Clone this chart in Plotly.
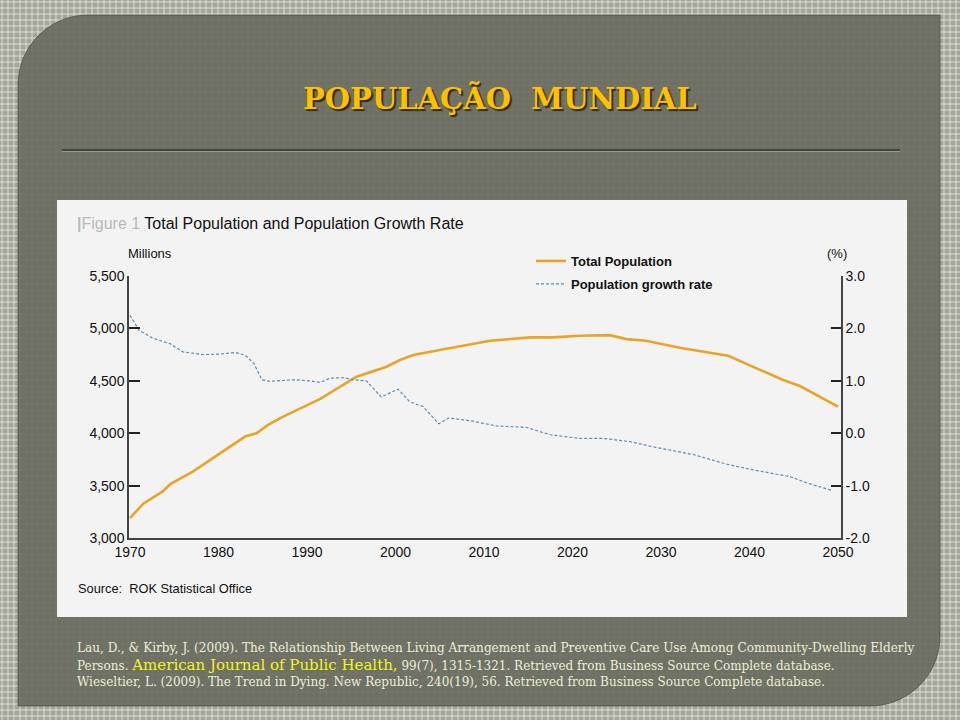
import plotly.graph_objects as go

# ---------------- data ----------------
pop_years = [1970.0, 1971.5, 1973.7, 1974.6, 1977.1, 1980.2, 1983.0, 1984.3, 1985.6,
             1987.3, 1990.0, 1991.5, 1995.6, 1997.5, 1999.0, 2000.5, 2002.0, 2005.0,
             2008.0, 2010.7, 2015.2, 2017.8, 2020.8, 2024.2, 2026.1, 2028.3, 2032.1,
             2034.7, 2037.6, 2040.8, 2043.8, 2045.7, 2047.9, 2050.0]
pop_values = [3190, 3327, 3444, 3517, 3634, 3810, 3968, 4000, 4079,
              4158, 4270, 4327, 4539, 4593, 4634, 4698, 4746, 4793,
              4841, 4882, 4914, 4914, 4930, 4936, 4898, 4882, 4815,
              4777, 4739, 4619, 4508, 4450, 4349, 4253]

rate_years = [1970.0, 1971.0, 1972.6, 1974.5, 1976.0, 1978.3, 1980.2, 1981.9, 1983.0,
              1984.0, 1984.9, 1985.8, 1988.5, 1990.3, 1991.5, 1992.6, 1994.1, 1995.2,
              1996.7, 1997.5, 1998.4, 1999.0, 2000.3, 2001.6, 2003.1, 2004.9, 2006.0,
              2008.4, 2011.4, 2014.8, 2017.5, 2020.8, 2023.5, 2026.5, 2029.1, 2033.7,
              2037.4, 2040.4, 2044.6, 2046.5, 2049.3]
rate_values = [2.25, 1.97, 1.81, 1.71, 1.55, 1.50, 1.51, 1.54, 1.49,
               1.33, 1.02, 0.99, 1.02, 1.00, 0.97, 1.05, 1.06, 1.02,
               1.00, 0.86, 0.69, 0.74, 0.84, 0.60, 0.51, 0.18, 0.29,
               0.24, 0.14, 0.11, -0.03, -0.10, -0.10, -0.16, -0.26, -0.41,
               -0.59, -0.70, -0.83, -0.95, -1.09]

year_ticks = [1970, 1980, 1990, 2000, 2010, 2020, 2030, 2040, 2050]
year_labels = ["1970", "1980", "1990", "2000", "2010", "2020", "2030", "2040", "2050"]
pop_ticks = [3000, 3500, 4000, 4500, 5000, 5500]
pop_labels = ["3,000", "3,500", "4,000", "4,500", "5,000", "5,500"]
rate_ticks = [-2, -1, 0, 1, 2, 3]
rate_labels = ["-2.0", "-1.0", "0.0", "1.0", "2.0", "3.0"]

series_names = ["Total Population", "Population growth rate"]
slide_title = "POPULAÇÃO  MUNDIAL"
figure_label = "Figure 1"
figure_title = "Total Population and Population Growth Rate"
left_unit = "Millions"
right_unit = "(%)"
source_text = "Source:&nbsp; ROK Statistical Office"
ref_line1 = ("Lau, D., &amp; Kirby, J. (2009). The Relationship Between Living Arrangement and "
             "Preventive Care Use Among Community-Dwelling Elderly")
ref_line2a = "Persons. "
ref_journal = "American Journal of Public Health,"
ref_line2b = " 99(7), 1315-1321. Retrieved from Business Source Complete database."
ref_line3 = ("Wieseltier, L. (2009). The Trend in Dying. New Republic, 240(19), 56. "
             "Retrieved from Business Source Complete database.")

# ---------------- geometry helpers (pixel -> paper) ----------------
W, H = 960, 720
L, R, T, B = 129, 119, 276, 182
PW = W - L - R
PH = H - T - B


def px(x):
    return (x - L) / PW


def py(y):
    return (H - B - y) / PH


def pt(x, y):
    return f"{px(x):.5f},{py(y):.5f}"


CHART_FONT = "Liberation Sans, Arial, sans-serif"
ORANGE = "#e9a427"
BLUE = "#5d8db5"

fig = go.Figure()
fig.add_trace(go.Scatter(x=pop_years, y=pop_values, mode="lines", name=series_names[0],
                         legendgroup="a",
                         line=dict(color=ORANGE, width=2.6), yaxis="y"))
fig.add_trace(go.Scatter(x=rate_years, y=rate_values, mode="lines", name=series_names[1],
                         legendgroup="b",
                         line=dict(color=BLUE, width=1.2, dash="3px,2px"), yaxis="y2"))

# ---------------- background shapes ----------------
shapes = []
segs = []
for gx in range(2, W, 6):
    segs.append(f"M{pt(gx, 0)}L{pt(gx, H)}")
for gy in range(2, H, 6):
    segs.append(f"M{pt(0, gy)}L{pt(W, gy)}")
shapes.append(dict(type="path", xref="paper", yref="paper", path="".join(segs),
                   line=dict(color="rgba(255,255,255,0.6)", width=1), layer="below"))

x0, y0, x1, y1, r = 18, 15, 940, 706, 70
k = 0.5523 * r
panel = (f"M{pt(x0 + r, y0)}L{pt(x1, y0)}L{pt(x1, y1 - r)}"
         f"C{pt(x1, y1 - r + k)} {pt(x1 - r + k, y1)} {pt(x1 - r, y1)}"
         f"L{pt(x0, y1)}L{pt(x0, y0 + r)}"
         f"C{pt(x0, y0 + r - k)} {pt(x0 + r - k, y0)} {pt(x0 + r, y0)}Z")
shapes.append(dict(type="path", xref="paper", yref="paper", path=panel,
                   fillcolor="rgba(103,106,93,0.9)",
                   line=dict(color="rgba(60,62,55,0.6)", width=1), layer="below"))

shapes.append(dict(type="line", xref="paper", yref="paper", x0=px(62), x1=px(900),
                   y0=py(150), y1=py(150), line=dict(color="#2e3b2d", width=1.5), layer="below"))
shapes.append(dict(type="line", xref="paper", yref="paper", x0=px(62), x1=px(900),
                   y0=py(151.5), y1=py(151.5), line=dict(color="rgba(170,185,160,0.6)", width=1),
                   layer="below"))

shapes.append(dict(type="rect", xref="paper", yref="paper", x0=px(57), x1=px(907),
                   y0=py(617), y1=py(200), fillcolor="#f3f3f3", line=dict(width=0),
                   layer="below"))

# ---------------- annotations ----------------
ann = []


def text(x, y, s, size, color, family, xanchor="left", weight="normal", shadow=None):
    f = dict(size=size, color=color, family=family, weight=weight)
    if shadow:
        f["shadow"] = shadow
    ann.append(dict(x=px(x), y=py(y), xref="paper", yref="paper", text=s, showarrow=False,
                    xanchor=xanchor, yanchor="middle", font=f))


TITLE_FONT = "DejaVu Serif, Liberation Serif, serif"
text(500, 98, slide_title, 29, "#ffc000", TITLE_FONT, "center", "bold",
     shadow="2px 2px 1px #2f2a18")

text(75, 224, f"<span style='color:#b9b9b9'><b>|</b>{figure_label}</span> {figure_title}",
     16, "#111111", CHART_FONT)
text(126, 253, left_unit, 13, "#111111", CHART_FONT)
text(825, 253, right_unit, 13, "#111111", CHART_FONT)
text(76, 588, source_text, 12.8, "#111111", CHART_FONT)

REF_FONT = "DejaVu Serif, Liberation Serif, serif"
REF_COL = "#eeeed6"
text(75, 648, ref_line1, 12.1, REF_COL, REF_FONT)
text(75, 665, (ref_line2a + f"<span style='font-size:15px;color:#f4f41e'>{ref_journal}</span>"
               + ref_line2b), 12, REF_COL, REF_FONT)
text(75, 682, ref_line3, 12, REF_COL, REF_FONT)

axis_font = dict(family=CHART_FONT, size=14, color="#111111")

fig.update_layout(
    width=W, height=H, autosize=False,
    margin=dict(l=L, r=R, t=T, b=B, pad=0),
    paper_bgcolor="#a4a699", plot_bgcolor="rgba(0,0,0,0)",
    shapes=shapes, annotations=ann,
    showlegend=True,
    legend=dict(x=px(531), y=py(246), xanchor="left", yanchor="top",
                bgcolor="rgba(0,0,0,0)", tracegroupgap=3,
                font=dict(family=CHART_FONT, size=13, color="#111111", weight="bold")),
    xaxis=dict(range=[1969.887, 2050.339], showline=True, linecolor="#444444", linewidth=1.5,
               ticks="", tickvals=year_ticks, ticktext=year_labels, tickfont=axis_font,
               showgrid=False, zeroline=False, fixedrange=True),
    yaxis=dict(range=[3000, 5500], showline=True, linecolor="#444444", linewidth=1.5,
               ticks="inside", ticklen=11, tickwidth=1.5, tickcolor="#222222",
               tickvals=pop_ticks, ticktext=pop_labels, tickfont=axis_font,
               showgrid=False, zeroline=False),
    yaxis2=dict(range=[-2, 3], overlaying="y", side="right", showline=True,
                linecolor="#444444", linewidth=1.5,
                ticks="inside", ticklen=10, tickwidth=1.5, tickcolor="#222222",
                tickvals=rate_ticks, ticktext=rate_labels, tickfont=axis_font,
                showgrid=False, zeroline=False),
)

fig.write_html("out.html", config={"displayModeBar": False},
               post_script="document.body.style.margin='0';document.body.style.overflow='hidden';")
